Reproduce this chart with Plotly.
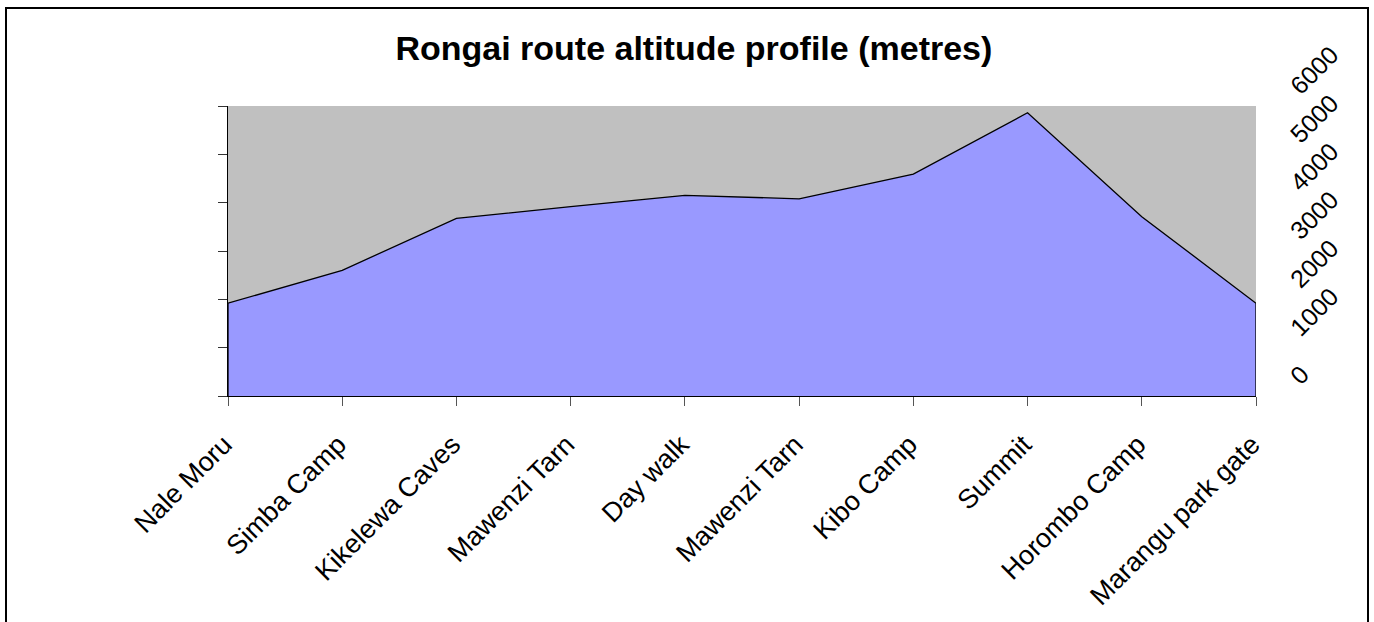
import plotly.graph_objects as go

stops = ["Nale Moru", "Simba Camp", "Kikelewa Caves", "Mawenzi Tarn", "Day walk",
         "Mawenzi Tarn", "Kibo Camp", "Summit", "Horombo Camp", "Marangu park gate"]
altitude = [1920, 2600, 3675, 3920, 4150, 4080, 4590, 5860, 3710, 1920]
y_ticks = [0, 1000, 2000, 3000, 4000, 5000, 6000]
title_text = "Rongai route altitude profile (metres)"

idx = list(range(len(stops)))
poly_x = [idx[0]] + idx + [idx[-1]]
poly_y = [0] + altitude + [0]

W, H = 1374, 622
L, R, T, B = 228, 1374 - 1256, 106, 622 - 396
pw, ph = W - L - R, H - T - B
y_max = y_ticks[-1]

fig = go.Figure()
fig.add_trace(go.Scatter(
    x=poly_x, y=poly_y, mode="lines", fill="toself",
    fillcolor="#9999FF", line=dict(color="black", width=1.3),
    hoverinfo="skip", showlegend=False))
fig.add_trace(go.Scatter(x=[idx[0]], y=[0], yaxis="y2", mode="markers",
                         marker=dict(opacity=0), showlegend=False, hoverinfo="skip"))

fig.update_layout(
    width=W, height=H,
    margin=dict(l=L, r=R, t=T, b=B),
    paper_bgcolor="white", plot_bgcolor="#C0C0C0",
    font=dict(family="Liberation Sans, Arial, sans-serif", color="black"),
    title=dict(text=title_text, x=0.505, xref="container", y=1 - 48 / H,
               yref="container", yanchor="middle", xanchor="center",
               font=dict(size=34, family="Liberation Sans, Arial, sans-serif", color="black",
                         weight="bold")),
    xaxis=dict(range=[idx[0], idx[-1]], tickvals=idx, ticktext=stops, tickangle=-45,
               ticks="outside", ticklen=9, tickcolor="#555", showgrid=False,
               showline=True, linecolor="black", linewidth=1, zeroline=False,
               ticklabelstandoff=12, ticklabelshift=-4,
               tickfont=dict(size=27)),
    yaxis=dict(range=[0, y_max], tickvals=y_ticks, ticks="outside", ticklen=9,
               tickcolor="#333", showticklabels=False, showgrid=False,
               showline=True, linecolor="black", linewidth=1, zeroline=False),
    yaxis2=dict(range=[0, y_max], tickvals=y_ticks,
                overlaying="y", side="right", ticklabelshift=-15,
                tickangle=-45, ticks="outside", ticklen=30, tickcolor="rgba(0,0,0,0)",
                showgrid=False, showline=False, zeroline=False, tickfont=dict(size=25)),
)

fig.add_shape(type="rect", xref="paper", yref="paper",
              x0=(6 - L) / pw, x1=(1368 - L) / pw,
              y0=(H - B - 640) / ph, y1=(H - B - 8) / ph,
              line=dict(color="black", width=2), fillcolor="rgba(0,0,0,0)", layer="above")

fig.write_html("out.html", config={"displayModeBar": False},
               post_script="document.body.style.margin='0';")
